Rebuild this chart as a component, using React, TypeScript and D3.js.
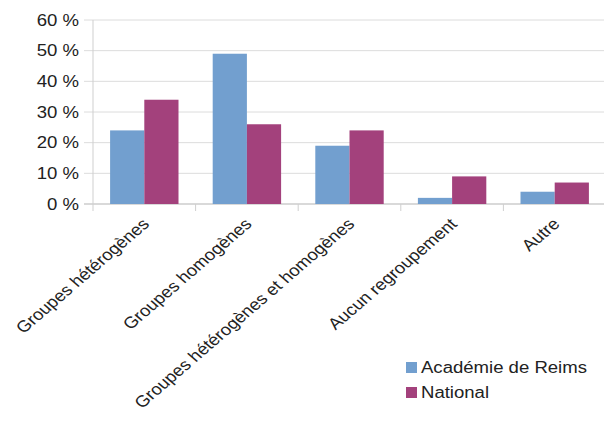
import React, { useEffect, useRef } from "react";
import * as d3 from "d3";

const categories = [
  "Groupes hétérogènes",
  "Groupes homogènes",
  "Groupes hétérogènes et homogènes",
  "Aucun regroupement",
  "Autre",
];
const seriesNames = ["Académie de Reims", "National"];
const reimsValues = [24, 49, 19, 2, 4];
const nationalValues = [34, 26, 24, 9, 7];
const yTicks = [0, 10, 20, 30, 40, 50, 60];
const colors = ["#729fcf", "#a3417c"];

const W = 604;
const H = 430;
const STRETCH = 1.16; // le rendu d'origine est un peu étiré en largeur

const App = () => {
  const svgRef = useRef<SVGSVGElement>(null);

  useEffect(() => {
    const svg = d3.select(svgRef.current);
    svg.selectAll("*").remove();

    const margin = { top: 20, left: 93, right: -2, bottom: 226 };
    const bottomY = H - margin.bottom;

    const x0 = d3
      .scaleBand()
      .domain(categories)
      .range([margin.left, W - margin.right])
      .padding(0);
    const x1 = d3
      .scaleBand()
      .domain(seriesNames)
      .range([0, x0.bandwidth()])
      .paddingInner(0)
      .paddingOuter(0.5);
    const y = d3.scaleLinear().domain([0, 60]).range([bottomY, margin.top]);

    const rows = categories.map((c, i) => ({
      cat: c,
      vals: [reimsValues[i], nationalValues[i]],
    }));

    // grille horizontale
    svg
      .append("g")
      .selectAll("line")
      .data(yTicks)
      .join("line")
      .attr("x1", margin.left - 9)
      .attr("x2", W)
      .attr("y1", (d) => y(d))
      .attr("y2", (d) => y(d))
      .attr("stroke", (d) => (d === 0 ? "#b3b3b3" : "#dcdcdc"))
      .attr("stroke-width", 1);

    // axe vertical
    svg
      .append("line")
      .attr("x1", margin.left)
      .attr("x2", margin.left)
      .attr("y1", margin.top)
      .attr("y2", bottomY + 7)
      .attr("stroke", "#cfcfcf");

    // graduations des categories
    svg
      .append("g")
      .selectAll("line")
      .data(categories.slice(1))
      .join("line")
      .attr("x1", (d) => x0(d)!)
      .attr("x2", (d) => x0(d)!)
      .attr("y1", bottomY)
      .attr("y2", bottomY + 7)
      .attr("stroke", "#cfcfcf");

    // barres
    svg
      .append("g")
      .selectAll("g")
      .data(rows)
      .join("g")
      .attr("transform", (d) => `translate(${x0(d.cat)},0)`)
      .selectAll("rect")
      .data((d) => d.vals.map((v, j) => ({ v, s: seriesNames[j], j })))
      .join("rect")
      .attr("x", (d) => x1(d.s)!)
      .attr("width", x1.bandwidth())
      .attr("y", (d) => y(d.v))
      .attr("height", (d) => bottomY - y(d.v))
      .attr("fill", (d) => colors[d.j]);

    const font = "'Liberation Sans', Arial, sans-serif";

    // libelles axe y
    svg
      .append("g")
      .selectAll("text")
      .data(yTicks)
      .join("text")
      .attr("transform", (d) => `translate(79,${y(d)}) scale(${STRETCH},1)`)
      .attr("text-anchor", "end")
      .attr("dy", "0.36em")
      .attr("font-family", font)
      .attr("font-size", 16)
      .attr("fill", "#222")
      .text((d) => `${d} %`);

    // libelles categories
    svg
      .append("g")
      .selectAll("text")
      .data(categories)
      .join("text")
      .attr(
        "transform",
        (d) =>
          `translate(${x0(d)! + x0.bandwidth() / 2 + 6},${bottomY + 21}) scale(${STRETCH},1) rotate(-45)`
      )
      .attr("text-anchor", "end")
      .attr("font-family", font)
      .attr("font-size", 16)
      .attr("fill", "#222")
      .text((d) => d);

    // legende
    const legend = svg
      .append("g")
      .selectAll("g")
      .data(seriesNames)
      .join("g")
      .attr("transform", (d, i) => `translate(406,${362 + i * 25})`);
    legend
      .append("rect")
      .attr("width", 11)
      .attr("height", 11)
      .attr("fill", (d, i) => colors[i]);
    legend
      .append("text")
      .attr("transform", `translate(15,11) scale(${STRETCH},1)`)
      .attr("font-family", font)
      .attr("font-size", 16)
      .attr("fill", "#222")
      .text((d) => d);
  }, []);

  return (
    <svg
      ref={svgRef}
      width={W}
      height={H}
      style={{ position: "absolute", left: 0, top: 0, background: "#fff" }}
    />
  );
};

export default App;
